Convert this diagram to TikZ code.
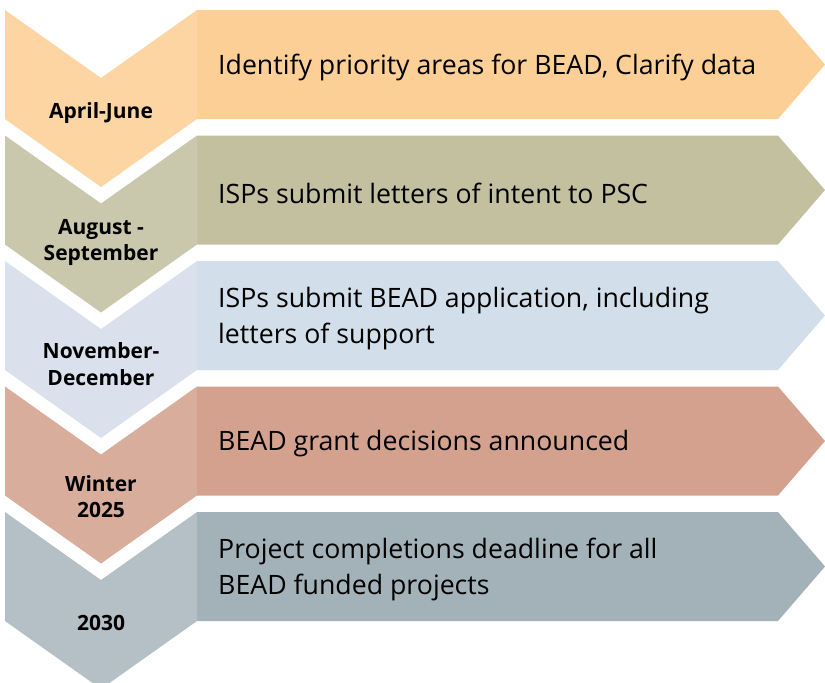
\documentclass[tikz,border=0pt]{standalone}
\usepackage{fontspec}
\setmainfont{Open Sans}
\usepackage{tikz}
\definecolor{chevA}{HTML}{FCD5A2}
\definecolor{boxA}{HTML}{FBCF95}
\definecolor{chevB}{HTML}{C9C8AD}
\definecolor{boxB}{HTML}{C3C0A0}
\definecolor{chevC}{HTML}{DAE1EC}
\definecolor{boxC}{HTML}{D2DEE9}
\definecolor{chevD}{HTML}{D8AD9C}
\definecolor{boxD}{HTML}{D3A18D}
\definecolor{chevE}{HTML}{B5C0C6}
\definecolor{boxE}{HTML}{A3B1B9}

\begin{document}
\begin{tikzpicture}[x=1pt,y=-1pt,
	when/.style={font=\fontsize{21}{26.5}\selectfont\bfseries,align=center,inner sep=0pt},
	what/.style={font=\fontsize{26.7}{35.5}\selectfont,align=left,anchor=west,inner sep=0pt}]
	\useasboundingbox (0,0) rectangle (825,683);
	\foreach \i/\t/\cc/\cb/\ly/\lab/\txt in {
		1/10/chevA/boxA/103/{April-June}/{Identify priority areas for BEAD, Clarify data},
		2/135.5/chevB/boxB/107/{August -\\September}/{ISPs submit letters of intent to PSC},
		3/261/chevC/boxC/103/{November-\\December}/{ISPs submit BEAD application, including\\letters of support},
		4/386.5/chevD/boxD/110/{Winter\\2025}/{BEAD grant decisions announced},
		5/512/chevE/boxE/111/{2030}/{Project completions deadline for all\\BEAD funded projects}}
	{
		% arrow box on the right
		\fill[\cb] (197,\t) -- (778,\t) -- (825,\t+54.5) -- (778,\t+109) -- (197,\t+109) -- cycle;
		% chevron on the left
		\fill[\cc] (5,\t) -- (101,\t+68) -- (197,\t) -- (197,\t+109) -- (101,\t+177) -- (5,\t+109) -- cycle;
		\node[when] (lab\i) at (101,\t+\ly) {\lab};
		\node[what] (txt\i) at (218,\t+57.5) {\txt};
	}
\end{tikzpicture}
\end{document}
